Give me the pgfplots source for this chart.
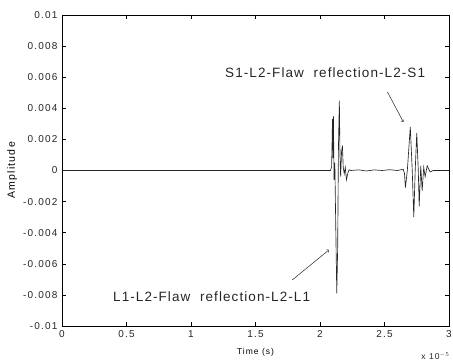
\documentclass[border=0pt]{standalone}
\usepackage{pgfplots}
\pgfplotsset{compat=1.18}
\usetikzlibrary{calc}
\usepackage{fontspec}
\setmainfont{Liberation Sans}
\newfontfamily\tickfont[LetterSpace=12]{Liberation Sans}
\newfontfamily\annfont[LetterSpace=8]{Liberation Sans}
\begin{document}
\begin{tikzpicture}
\begin{axis}[
  name=ax,
  scale only axis,
  width=387pt, height=311pt,
  xmin=0, xmax=3, ymin=-0.01, ymax=0.01,
  scaled x ticks=false, scaled y ticks=false,
  xtick={0,0.5,1,1.5,2,2.5,3},
  xticklabels={0,0.5,1,1.5,2,2.5,3},
  ytick={-0.01,-0.008,-0.006,-0.004,-0.002,0,0.002,0.004,0.006,0.008,0.01},
  yticklabels={-0.01,-0.008,-0.006,-0.004,-0.002,0,0.002,0.004,0.006,0.008,0.01},
  tick align=inside,
  major tick length=4pt,
  tick style={black, line width=0.4pt},
  axis line style={black, line width=0.6pt},
  ticklabel style={font=\tickfont\fontsize{10}{11}\selectfont, color=black!85},
  xticklabel style={yshift=-1pt},
  yticklabel style={xshift=-1pt},
  xlabel={Time (s)},
  ylabel={Amplitude},
  xlabel style={at={(axis description cs:0.5,-0.084)}, anchor=center, font=\tickfont\fontsize{8.5}{9}\selectfont},
  ylabel style={at={(axis description cs:-0.129,0.5)}, anchor=center, rotate=0, font=\tickfont\fontsize{10.5}{11}\selectfont},
  clip=false,
]
\addplot[black!85, line width=0.65pt] coordinates {
(0,0) (0.5,0) (1.0,0) (1.5,0) (2.0,0)
(2.080,0) (2.090,0.0002) (2.097,0.0033) (2.101,0.0008) (2.104,0.0035)
(2.109,-0.0006) (2.115,0.0005) (2.122,-0.0035) (2.130,-0.0079) (2.137,-0.0050)
(2.143,0.0015) (2.150,0.0045) (2.155,0.0010) (2.160,-0.0004) (2.167,0.0012)
(2.174,0.0016) (2.180,0.0002) (2.188,-0.0002) (2.196,0.0002) (2.205,-0.0006)
(2.215,-0.0002) (2.225,0.00005) (2.240,0.0000) (2.300,0.00004) (2.360,-0.00003)
(2.420,0.00004) (2.480,0.0000) (2.540,0.00005) (2.600,0.0000) (2.645,0.00008) (2.655,-0.0002)
(2.662,-0.0011) (2.677,0.0000) (2.700,0.0028) (2.715,0.0000) (2.727,-0.0030)
(2.738,0.0000) (2.750,0.0024) (2.762,0.0000) (2.769,-0.0023) (2.781,0.0003)
(2.792,-0.0013) (2.804,0.0002) (2.815,-0.0004) (2.831,0.0003) (2.854,-0.0001)
(2.877,0.0000) (2.95,0.0000) (3.0,0.0000)
};
\draw[->, line width=0.5pt, black!85] (axis cs:1.785,-0.00704) -- (axis cs:2.069,-0.00511);
\draw[->, line width=0.5pt, black!85] (axis cs:2.523,0.00505) -- (axis cs:2.646,0.00312);
\node[font=\annfont\fontsize{13.5}{14}\selectfont, color=black!85] at (axis cs:1.16,-0.0081) {L1-L2-Flaw\ \ reflection-L2-L1};
\node[font=\annfont\fontsize{13.5}{14}\selectfont, color=black!85] at (axis cs:2.04,0.0063) {S1-L2-Flaw\ \ reflection-L2-S1};
\node[font=\tickfont\fontsize{8.5}{9}\selectfont, color=black!85, anchor=east, xshift=4pt] at (axis description cs:1,-0.098) {x 10$^{-5}$};
\end{axis}
\pgfresetboundingbox
\path (ax.south west) ++(-62pt,-37pt) coordinate (bl);
\path (ax.north east) ++(4pt,15pt) coordinate (tr);
\path[use as bounding box] (bl) rectangle (tr);
\end{tikzpicture}
\end{document}
